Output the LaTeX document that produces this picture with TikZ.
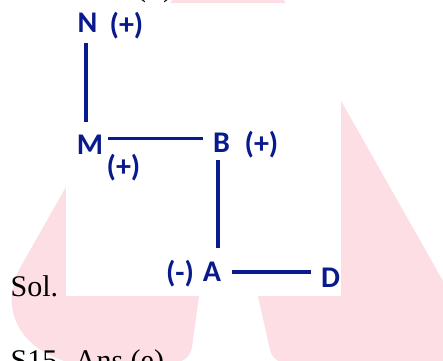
\documentclass[tikz,border=0pt]{standalone}
\usepackage{fontspec}
\setmainfont{Liberation Serif}
\newfontfamily\calib{Carlito}
\definecolor{navy}{RGB}{8,26,140}
\definecolor{wmpink}{RGB}{253,222,228}
\tikzset{
  lbl/.style={font=\calib\bfseries\fontsize{30}{36}\selectfont, text=navy, inner sep=0pt, anchor=center},
  link/.style={draw=navy, line width=3.2pt},
  prose/.style={font=\fontsize{30}{36}\selectfont, text=black, inner sep=0pt, anchor=base west}
}
\begin{document}
\begin{tikzpicture}[x=1pt,y=-1pt]
\clip (0,0) rectangle (443,360);
\fill[white] (0,0) rectangle (443,360);
% watermark
\fill[wmpink] (228,-98.8) -- (20,268) .. controls (0,305) and (15,350) .. (75,364)
  -- (165,364) .. controls (182,364) and (190,358) .. (192,347)
  -- (199,296) -- (221.5,132) -- (258,296) -- (270,350)
  .. controls (273,360) and (280,364) .. (295,364) -- (490,364) -- cycle;
% pasted image area
\fill[white] (66,3) rectangle (341,296);
% surrounding text
\node[prose] (prev) at (136,-4) {(+)};
\node[prose] (sol) at (10.5,296) {Sol.};
\node[prose] (ans) at (10.5,370) {S15. Ans.(e)};
% diagram labels
\node[lbl] (N) at (87.5,23) {N};
\node[lbl] (Ns) at (126.5,25.5) {(+)};
\node[lbl] (M) at (90,144.5) {M};
\node[lbl] (Ms) at (123.5,168) {(+)};
\node[lbl] (B) at (221.5,143) {B};
\node[lbl] (Bs) at (261.5,144.5) {(+)};
\node[lbl] (A) at (212,272) {A};
\node[lbl] (As) at (180,274) {(-)};
\node[lbl] (D) at (330.5,277.5) {D};
% connectors
\draw[link, shorten <=10pt, shorten >=12.8pt] ([xshift=-1.5pt]N.south) -- ([xshift=-1.5pt]N.south |- M.north);
\coordinate (mb) at ([yshift=-4.2pt]M.north east);
\draw[link, shorten <=5pt, shorten >=10pt] (mb) -- (mb -| B.west);
\draw[link, shorten <=7pt, shorten >=14pt] ([xshift=-3.5pt]B.south) -- ([xshift=-3.5pt]B.south |- A.north);
\draw[link, shorten <=11pt, shorten >=10pt] (A.east) -- (A.east -| D.west);
\end{tikzpicture}
\end{document}
